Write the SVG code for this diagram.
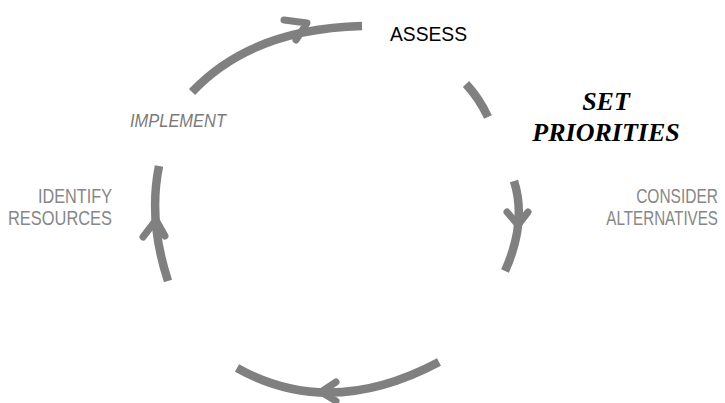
<svg xmlns="http://www.w3.org/2000/svg" width="725" height="403" viewBox="0 0 725 403">
  <style>
    .arc { fill: none; stroke: #808080; stroke-width: 8.5; stroke-linecap: butt; }
    .head { fill: none; stroke: #808080; stroke-width: 7; stroke-linecap: round; stroke-linejoin: round; }
    .lbl { font-family: "Liberation Sans", Arial, sans-serif; font-size: 19.5px; fill: #878787; }
    .main { font-family: "Liberation Sans", Arial, sans-serif; font-size: 21px; fill: #000000; }
    .hot { font-family: "Liberation Serif", "Times New Roman", serif; font-size: 26px; font-weight: bold; font-style: italic; fill: #000000; }
    .impl { font-family: "Liberation Sans", Arial, sans-serif; font-size: 17.5px; font-style: italic; fill: #7a7a7a; }
  </style>
  <rect width="725" height="403" fill="#ffffff"/>
  <g id="connectors">
    <path class="arc" d="M192,92 C226,56 280,28 362,26"/>
    <polyline class="head" points="284,20 307,23 296,40"/>
    <path class="arc" d="M466,84 Q479,98 488,117"/>
    <path class="arc" d="M514,181 Q527,222 505,271"/>
    <polyline class="head" points="507,212 518,225 528,212"/>
    <path class="arc" d="M237,368 Q330,420 439,362"/>
    <polyline class="head" points="336,382 321,392 336,401"/>
    <path class="arc" d="M159,166 Q148,220 168,281"/>
    <polyline class="head" points="143,237 156,220 165,236"/>
  </g>
  <g id="assess">
    <text class="main" x="390" y="41" textLength="77" lengthAdjust="spacingAndGlyphs">ASSESS</text>
  </g>
  <g id="set-priorities">
    <text class="hot" x="606" y="110" text-anchor="middle">SET</text>
    <text class="hot" x="606" y="141" text-anchor="middle">PRIORITIES</text>
  </g>
  <g id="consider-alternatives">
    <text class="lbl" transform="translate(718,203) scale(0.796,1)" text-anchor="end">CONSIDER</text>
    <text class="lbl" transform="translate(718,225) scale(0.779,1)" text-anchor="end">ALTERNATIVES</text>
  </g>
  <g id="identify-resources">
    <text class="lbl" x="38" y="203" textLength="74" lengthAdjust="spacingAndGlyphs">IDENTIFY</text>
    <text class="lbl" x="8" y="225" textLength="104" lengthAdjust="spacingAndGlyphs">RESOURCES</text>
  </g>
  <g id="implement">
    <text class="impl" x="130" y="127" textLength="96" lengthAdjust="spacingAndGlyphs">IMPLEMENT</text>
  </g>
</svg>
